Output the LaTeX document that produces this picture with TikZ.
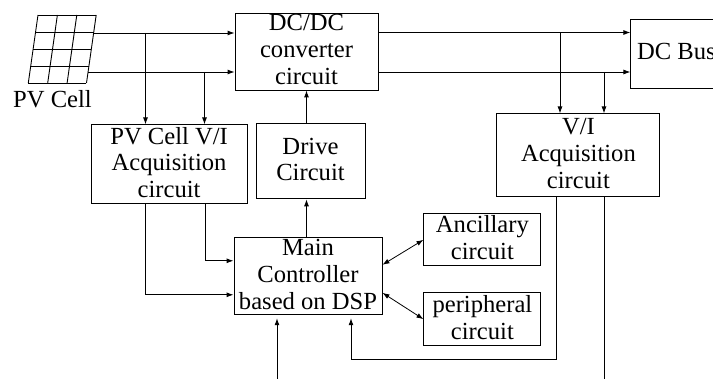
\documentclass[tikz,border=0pt]{standalone}
\usepackage{fontspec}
\setmainfont{Liberation Serif}
\usepackage{tikz}
\usetikzlibrary{arrows.meta,positioning}

\begin{document}
\begin{tikzpicture}[
    x=1pt, y=1pt,
    box/.style  = {draw, line width=0.9pt, inner sep=0pt, align=center,
                   font=\fontsize{24.6}{26.7}\selectfont,
                   execute at end node={\rule[-4pt]{0pt}{0pt}}},
    arr/.style  = {-{Latex[length=7pt,width=5pt]}, line width=0.9pt},
    dblarr/.style = {{Latex[length=7pt,width=5pt]}-{Latex[length=7pt,width=5pt]}, line width=0.8pt},
    wire/.style = {line width=0.9pt},
  ]
    \useasboundingbox (0,0) rectangle (713,-379);

    \node[box, minimum width=143pt, minimum height=77pt] (dcdc) at (306.5,-51.5)
      {DC/DC\\converter\\circuit};
    \node[box, minimum width=109pt, minimum height=75pt, below=33pt of dcdc, xshift=4pt] (drive)
      {Drive\\Circuit};
    \node[box, minimum width=148pt, minimum height=77pt, below=38pt of drive, xshift=-2.5pt] (main)
      {Main\\Controller\\based on DSP};
    \node[box, minimum width=156pt, minimum height=79pt, left=8pt of drive, yshift=-3pt] (pvacq)
      {PV Cell V/I\\Acquisition\\circuit};
    \node[box, minimum width=163pt, minimum height=83pt, right=131pt of drive, yshift=6pt] (viacq)
      {V/I\\Acquisition\\circuit};
    \node[box, minimum width=91pt, minimum height=69pt, right=252pt of dcdc, yshift=-2pt] (bus)
      {DC Bus};
    \node[box, minimum width=117pt, minimum height=52pt, right=41pt of main, yshift=36.5pt] (anc)
      {Ancillary\\circuit};
    \node[box, minimum width=117pt, minimum height=53pt, below=26pt of anc] (peri)
      {peripheral\\circuit};

    % panel
    \foreach \i in {0,...,4}
      \draw[wire] ({38-2.4*\i},{-15-17*\i}) -- ({96-2.4*\i},{-15-17*\i});
    \foreach \i in {0,...,3}
      \draw[wire] ({38+19.4*\i},-15) -- ({28.3+19.4*\i},-83);
    \node[box, draw=none] (pv) at (52.5,-100.5) {PV Cell};

    \coordinate (pvtop) at (93.5,-33);
    \coordinate (pvbot) at (88,-72);
    \coordinate (tapa) at (145.5,-33);
    \coordinate (tapb) at (204.5,-72);
    \coordinate (tapc) at (560,-32.5);
    \coordinate (tapd) at (604,-72);
    \coordinate (bota) at (277,-379);
    \coordinate (botb) at (604,-379);
    \coordinate (turna) at (556,-359);
    \coordinate (turnb) at (351,-359);

    \draw[arr] (pvtop) -- (pvtop -| dcdc.west);
    \draw[arr] (pvbot) -- (pvbot -| dcdc.west);
    \draw[arr] (tapa) -- (tapa |- pvacq.north);
    \draw[arr] (tapb) -- (tapb |- pvacq.north);
    \draw[arr] (tapc -| dcdc.east) -- (tapc -| bus.west);
    \draw[arr] (tapd -| dcdc.east) -- (tapd -| bus.west);
    \draw[arr] (tapc) -- (tapc |- viacq.north);
    \draw[arr] (tapd) -- (tapd |- viacq.north);
    \draw[arr] (dcdc.south |- drive.north) -- (dcdc.south);
    \draw[arr] (dcdc.south |- main.north) -- (dcdc.south |- drive.south);
    \draw[arr] (pvacq.south) ++(36,0) |- ([yshift=15.5pt]main.west);
    \draw[arr] (pvacq.south) ++(-24,0) |- ([yshift=-18.5pt]main.west);
    \draw[dblarr] ([yshift=11.5pt]main.east) -- (anc.west);
    \draw[dblarr] ([yshift=-16.5pt]main.east) -- (peri.west);
    \draw[arr] (bota) -- ([yshift=-3pt]bota |- main.south);
    \draw[wire] (botb) -- (botb |- viacq.south);
    \draw[arr] (turna |- viacq.south) -- (turna) -- (turnb) -- ([yshift=-3pt]turnb |- main.south);
\end{tikzpicture}
\end{document}
